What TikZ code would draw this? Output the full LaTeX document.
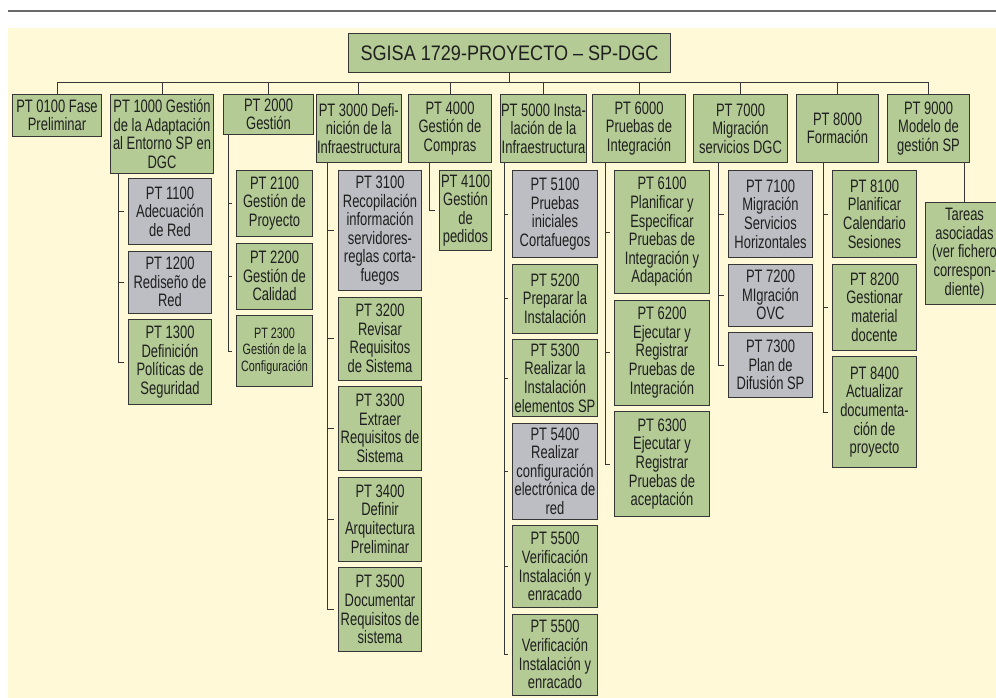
\documentclass[tikz,border=0pt]{standalone}
\usepackage{fontspec}
\setmainfont{Liberation Sans}[FakeStretch=0.72]
\newfontfamily\rootfamily{Liberation Sans}[FakeStretch=0.86]
\usepackage{tikz}
\usetikzlibrary{positioning}
\definecolor{cream}{HTML}{FFF9D7}
\definecolor{leaf}{HTML}{B4CB95}
\definecolor{pending}{HTML}{BDBEC3}
\definecolor{edge}{HTML}{363636}
\definecolor{ink}{HTML}{1F1F1F}
\definecolor{rulegray}{HTML}{6A6A6A}
\newcommand{\wbsfont}{\fontsize{18}{18.6}\selectfont}
\newcommand{\smallwbsfont}{\fontsize{15}{16.5}\selectfont}
\newcommand{\rootfont}{\rootfamily\fontsize{21}{26}\selectfont}
\tikzset{
  wbsbox/.style={draw=edge, fill=leaf, line width=1pt, align=center, text=ink, inner xsep=0.5pt, inner ysep=1pt, anchor=north west, font=\wbsfont},
  greybox/.style={wbsbox, fill=pending},
  conn/.style={draw=edge, line width=0.9pt},
  tick/.style={conn, shorten >=4pt}
}

\begin{document}
\begin{tikzpicture}[x=1pt, y=-1pt]
  \useasboundingbox (0,0) rectangle (996,698);
  \draw[rulegray, line width=2pt] (8,11) -- (996,11);
  \fill[cream] (8,28) rectangle (996,698);
  % top of the tree
  \node[wbsbox, minimum width=322, minimum height=39, font=\rootfont] (root) at (348,33) {SGISA 1729-PROYECTO – SP-DGC};
  \node[wbsbox, minimum width=89, minimum height=42] (p0100) at (12,94) {PT 0100 Fase\\Preliminar};
  \node[wbsbox, minimum width=103, minimum height=79] (p1000) at (110,94) {PT 1000 Gestión\\de la Adaptación\\al Entorno SP en\\DGC};
  \node[wbsbox, minimum width=90, minimum height=40] (p2000) at (223,94) {PT 2000\\Gestión};
  \node[wbsbox, minimum width=83, minimum height=68] (p3000) at (316,94) {PT 3000 Defi-\\nición de la\\Infraestructura};
  \node[wbsbox, minimum width=83, minimum height=68] (p4000) at (408,94) {PT 4000\\Gestión de\\Compras};
  \node[wbsbox, minimum width=83, minimum height=68] (p5000) at (500,94) {PT 5000 Insta-\\lación de la\\Infraestructura};
  \node[wbsbox, minimum width=93, minimum height=68] (p6000) at (592,94) {PT 6000\\Pruebas de\\Integración};
  \node[wbsbox, minimum width=94, minimum height=68] (p7000) at (693,94) {PT 7000\\Migración\\servicios DGC};
  \node[wbsbox, minimum width=82, minimum height=68] (p8000) at (796,94) {PT 8000\\Formación};
  \node[wbsbox, minimum width=82, minimum height=68] (p9000) at (887,94) {PT 9000\\Modelo de\\gestión SP};
  \foreach \p in {p0100,p1000,p2000,p3000,p4000,p5000,p6000,p7000,p8000,p9000}
    \draw[conn] (root.south) -- ++(0,9) -| (\p.north);
  % PT 1000
  \node[greybox, minimum width=83, minimum height=66] (c1100) at (128,178) {PT 1100\\Adecuación\\de Red};
  \node[greybox, below=5.5pt of c1100, minimum width=83, minimum height=62] (c1200) {PT 1200\\Rediseño de\\Red};
  \node[wbsbox, below=5.5pt of c1200, minimum width=83, minimum height=85] (c1300) {PT 1300\\Definición\\Políticas de\\Seguridad};
  % PT 2000
  \node[wbsbox, minimum width=76, minimum height=66] (c2100) at (236,170) {PT 2100\\Gestión de\\Proyecto};
  \node[wbsbox, below=5.5pt of c2100, minimum width=76, minimum height=66] (c2200) {PT 2200\\Gestión de\\Calidad};
  \node[wbsbox, below=5.5pt of c2200, minimum width=76, minimum height=71, font=\smallwbsfont] (c2300) {PT 2300\\Gestión de la\\Configuración};
  % PT 3000
  \node[greybox, minimum width=83, minimum height=120] (c3100) at (338,170) {PT 3100\\Recopilación\\información\\servidores-\\reglas corta-\\fuegos};
  \node[wbsbox, below=5.5pt of c3100, minimum width=83, minimum height=83] (c3200) {PT 3200\\Revisar\\Requisitos\\de Sistema};
  \node[wbsbox, below=5.5pt of c3200, minimum width=83, minimum height=84] (c3300) {PT 3300\\Extraer\\Requisitos de\\Sistema};
  \node[wbsbox, below=5.5pt of c3300, minimum width=83, minimum height=84] (c3400) {PT 3400\\Definir\\Arquitectura\\Preliminar};
  \node[wbsbox, below=5.5pt of c3400, minimum width=83, minimum height=84] (c3500) {PT 3500\\Documentar\\Requisitos de\\sistema};
  % PT 4000
  \node[wbsbox, minimum width=52, minimum height=80] (c4100) at (439,170) {PT 4100\\Gestión\\de\\pedidos};
  % PT 5000
  \node[greybox, minimum width=85, minimum height=87] (c5100) at (512,170) {PT 5100\\Pruebas\\iniciales\\Cortafuegos};
  \node[wbsbox, below=5.5pt of c5100, minimum width=85, minimum height=69] (c5200) {PT 5200\\Preparar la\\Instalación};
  \node[wbsbox, below=5.5pt of c5200, minimum width=85, minimum height=77] (c5300) {PT 5300\\Realizar la\\Instalación\\elementos SP};
  \node[greybox, below=5.5pt of c5300, minimum width=85, minimum height=96] (c5400) {PT 5400\\Realizar\\configuración\\electrónica de\\red};
  \node[wbsbox, below=5.5pt of c5400, minimum width=85, minimum height=82] (c5500) {PT 5500\\Verificación\\Instalación y\\enracado};
  \node[wbsbox, below=5.5pt of c5500, minimum width=85, minimum height=81] (c5501) {PT 5500\\Verificación\\Instalación y\\enracado};
  % PT 6000
  \node[wbsbox, minimum width=95, minimum height=123] (c6100) at (614,170) {PT 6100\\Planificar y\\Especificar\\Pruebas de\\Integración y\\Adapación};
  \node[wbsbox, below=5.5pt of c6100, minimum width=95, minimum height=105] (c6200) {PT 6200\\Ejecutar y\\Registrar\\Pruebas de\\Integración};
  \node[wbsbox, below=5.5pt of c6200, minimum width=95, minimum height=105] (c6300) {PT 6300\\Ejecutar y\\Registrar\\Pruebas de\\aceptación};
  % PT 7000
  \node[greybox, minimum width=84, minimum height=87] (c7100) at (728,170) {PT 7100\\Migración\\Servicios\\Horizontales};
  \node[greybox, below=5.5pt of c7100, minimum width=84, minimum height=62] (c7200) {PT 7200\\MIgración\\OVC};
  \node[greybox, below=5.5pt of c7200, minimum width=84, minimum height=65] (c7300) {PT 7300\\Plan de\\Difusión SP};
  % PT 8000
  \node[wbsbox, minimum width=84, minimum height=87] (c8100) at (832,170) {PT 8100\\Planificar\\Calendario\\Sesiones};
  \node[wbsbox, below=5.5pt of c8100, minimum width=84, minimum height=86] (c8200) {PT 8200\\Gestionar\\material\\docente};
  \node[wbsbox, below=5.5pt of c8200, minimum width=84, minimum height=111] (c8400) {PT 8400\\Actualizar\\documenta-\\ción de\\proyecto};
  % PT 9000 (box runs off the right edge)
  \node[wbsbox, minimum width=78, minimum height=102] (c9100) at (925,202) {Tareas\\asociadas\\(ver fichero\\correspon-\\diente)};
  % spines
  \coordinate (s1000) at ([xshift=8pt]p1000.south west);
  \coordinate (s2000) at ([xshift=5pt]p2000.south west);
  \coordinate (s3000) at ([xshift=11pt]p3000.south west);
  \coordinate (s4000) at ([xshift=21pt]p4000.south west);
  \coordinate (s5000) at ([xshift=4pt]p5000.south west);
  \coordinate (s6000) at ([xshift=13pt]p6000.south west);
  \coordinate (s7000) at ([xshift=25pt]p7000.south west);
  \coordinate (s8000) at ([xshift=27pt]p8000.south west);
  \coordinate (s9000) at ([xshift=-6pt]p9000.south east);
  \foreach \c in {c1100,c1200,c1300} \draw[tick] (s1000) |- (\c.west);
  \foreach \c in {c2100,c2200,c2300} \draw[tick] (s2000) |- (\c.west);
  \foreach \c in {c3100,c3200,c3300,c3400,c3500} \draw[tick] (s3000) |- (\c.west);
  \draw[tick] (s4000) |- (c4100.west);
  \foreach \c in {c5100,c5200,c5300,c5400,c5500,c5501} \draw[tick] (s5000) |- (\c.west);
  \foreach \c in {c6100,c6200,c6300} \draw[tick] (s6000) |- (\c.west);
  \foreach \c in {c7100,c7200,c7300} \draw[tick] (s7000) |- (\c.west);
  \foreach \c in {c8100,c8200,c8400} \draw[tick] (s8000) |- (\c.west);
  \draw[conn] (s9000) -- (s9000 |- c9100.north);
\end{tikzpicture}
\end{document}
